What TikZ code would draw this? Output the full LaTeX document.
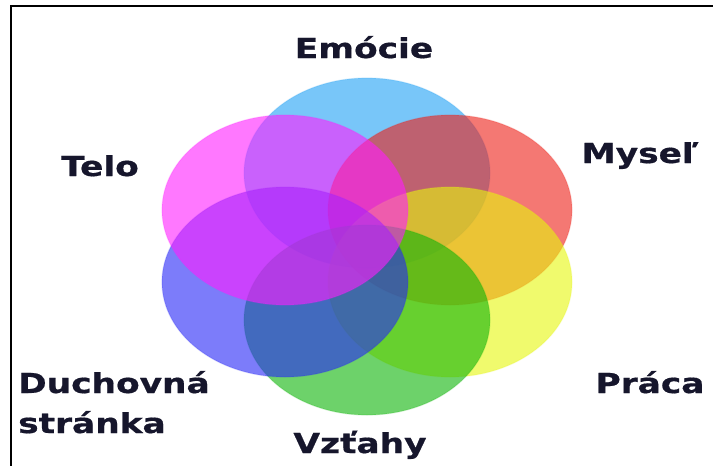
\documentclass[tikz,border=0pt]{standalone}
\usepackage{fontspec}
\newfontfamily\lblfont{DejaVu Sans}[BoldFont={DejaVu Sans Bold}, BoldFeatures={FakeBold=0.6}]
\definecolor{cEmo}{RGB}{30,160,245}
\definecolor{cMys}{RGB}{238,30,22}
\definecolor{cPra}{RGB}{230,247,13}
\definecolor{cVzt}{RGB}{13,180,7}
\definecolor{cDuch}{RGB}{38,38,247}
\definecolor{cTel}{RGB}{255,30,255}
\definecolor{txt}{RGB}{22,22,44}
\tikzset{
  petal/.style={fill=#1, fill opacity=0.6, draw=#1, draw opacity=0.18, line width=1.2pt},
  lbl/.style={font=\lblfont\bfseries\fontsize{27.5}{32}\selectfont, text=txt, inner sep=0pt, anchor=base},
  lblw/.style={lbl, anchor=base west},
  frame/.style={line width=2pt, black}
}
\newcommand{\hstretch}[1]{\scalebox{1.25}[1]{#1}}
\begin{document}
\begin{tikzpicture}[x=1pt,y=-1pt]
\useasboundingbox (0,0) rectangle (713,466);
\fill[white] (0,0) rectangle (713,466);
% petals (drawn in stacking order)
\path[petal=cEmo]  (367,173) ellipse [x radius=123, y radius=95];
\path[petal=cMys]  (450,210) ellipse [x radius=122, y radius=95];
\path[petal=cPra]  (450,282) ellipse [x radius=122, y radius=95];
\path[petal=cVzt]  (367,320) ellipse [x radius=123, y radius=95];
\path[petal=cDuch] (285,282) ellipse [x radius=123, y radius=95];
\path[petal=cTel]  (285,210) ellipse [x radius=123, y radius=95];
% labels
\node[lbl] (emo) at (364,58) {\hstretch{Emócie}};
\node[lbl] (tel) at (100,176) {\hstretch{Telo}};
\node[lbl] (mys) at (640,163) {\hstretch{Myseľ}};
\node[lbl] (pra) at (650,393) {\hstretch{Práca}};
\node[lbl] (vzt) at (360,453) {\hstretch{Vzťahy}};
\node[lblw] (duch1) at (18,393) {\hstretch{Duchovná}};
\node[lblw] (duch2) at (18,433) {\hstretch{stránka}};
% frame
\coordinate (fa) at (11,466);
\coordinate (fb) at (11,6);
\coordinate (fc) at (713,6);
\draw[frame] (fa) -- (fb) -- (fc);
\end{tikzpicture}
\end{document}
